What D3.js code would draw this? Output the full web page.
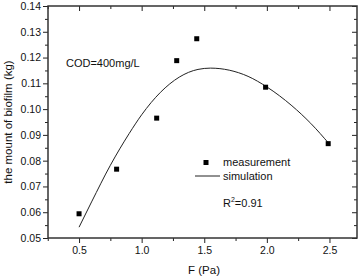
<!DOCTYPE html>
<html lang="en">
<head>
    <meta charset="UTF-8">
    <title>Biofilm vs F</title>
    <script src="https://d3js.org/d3.v7.min.js"></script>
    <style>
        body { margin: 0; background: #fff; }
        svg { display: block; font-family: 'Liberation Sans', Arial, sans-serif; }
        .tick text { font-size: 10.5px; fill: #111; }
    </style>
</head>
<body>
    <svg id="chart" width="360" height="277"></svg>

    <script>
        // measured points
        const measF = [0.5, 0.8, 1.12, 1.28, 1.44, 1.99, 2.49];
        const measVal = [0.0594, 0.0767, 0.0965, 0.1188, 0.1273, 0.1085, 0.0866];

        // simulated curve
        const simF = [0.5, 0.6, 0.75, 0.9, 1.0, 1.15, 1.3, 1.45, 1.55, 1.7, 1.85, 2.0, 2.2, 2.35, 2.5];
        const simVal = [0.0542, 0.0640, 0.0782, 0.0905, 0.0978, 0.1065, 0.1124, 0.1154, 0.1159, 0.1151, 0.1127, 0.1086, 0.1013, 0.0945, 0.0864];

        const xTicks = [0.5, 1.0, 1.5, 2.0, 2.5];
        const yTicks = [0.05, 0.06, 0.07, 0.08, 0.09, 0.10, 0.11, 0.12, 0.13, 0.14];

        const margin = { left: 48, top: 6, right: 357, bottom: 238 };
        const svg = d3.select("#chart");

        const x = d3.scaleLinear().domain([0.252, 2.72]).range([margin.left, margin.right]);
        const y = d3.scaleLinear().domain([0.05, 0.14]).range([margin.bottom, margin.top]);

        const xMinor = d3.range(0.25, 2.71, 0.25).filter(v => Math.abs(v * 2 - Math.round(v * 2)) > 0.01);
        const yMinor = d3.range(0.055, 0.14, 0.01);

        function styleAxis(g) {
            g.select(".domain").remove();
            g.selectAll(".tick line").attr("stroke", "#222").attr("stroke-width", 1);
        }

        // bottom axis
        svg.append("g")
            .attr("transform", `translate(0,${margin.bottom})`)
            .call(d3.axisBottom(x).tickValues(xTicks).tickFormat(d3.format(".1f")).tickSize(5).tickPadding(4))
            .call(styleAxis);
        svg.append("g")
            .attr("transform", `translate(0,${margin.bottom})`)
            .call(d3.axisBottom(x).tickValues(xMinor).tickFormat("").tickSize(3))
            .call(styleAxis);

        // top axis (inward)
        svg.append("g")
            .attr("transform", `translate(0,${margin.top})`)
            .call(d3.axisBottom(x).tickValues(xTicks).tickFormat("").tickSize(5))
            .call(styleAxis);
        svg.append("g")
            .attr("transform", `translate(0,${margin.top})`)
            .call(d3.axisBottom(x).tickValues(xMinor).tickFormat("").tickSize(3))
            .call(styleAxis);

        // left axis
        svg.append("g")
            .attr("transform", `translate(${margin.left},0)`)
            .call(d3.axisLeft(y).tickValues(yTicks).tickFormat(d3.format(".2f")).tickSize(5).tickPadding(2))
            .call(styleAxis);
        svg.append("g")
            .attr("transform", `translate(${margin.left},0)`)
            .call(d3.axisLeft(y).tickValues(yMinor).tickFormat("").tickSize(3))
            .call(styleAxis);

        // right axis (inward)
        svg.append("g")
            .attr("transform", `translate(${margin.right},0)`)
            .call(d3.axisLeft(y).tickValues(yTicks).tickFormat("").tickSize(5))
            .call(styleAxis);
        svg.append("g")
            .attr("transform", `translate(${margin.right},0)`)
            .call(d3.axisLeft(y).tickValues(yMinor).tickFormat("").tickSize(3))
            .call(styleAxis);

        // frame
        svg.append("rect")
            .attr("x", margin.left).attr("y", margin.top)
            .attr("width", margin.right - margin.left)
            .attr("height", margin.bottom - margin.top)
            .attr("fill", "none").attr("stroke", "#333").attr("stroke-width", 1.5);

        // simulation curve
        const line = d3.line()
            .x((d, i) => x(simF[i]))
            .y(d => y(d))
            .curve(d3.curveMonotoneX);
        svg.append("path")
            .datum(simVal)
            .attr("d", line)
            .attr("fill", "none")
            .attr("stroke", "#222")
            .attr("stroke-width", 1);

        // measurement markers
        svg.selectAll(".meas")
            .data(measVal)
            .enter().append("rect")
            .attr("class", "meas")
            .attr("x", (d, i) => x(measF[i]) - 2.5)
            .attr("y", d => y(d) - 2.5)
            .attr("width", 5).attr("height", 5)
            .attr("fill", "#000");

        // annotations
        svg.append("text").attr("x", 66).attr("y", 67)
            .attr("font-size", 11).attr("fill", "#111").text("COD=400mg/L");

        // legend
        svg.append("rect").attr("x", 203.5).attr("y", 160).attr("width", 5).attr("height", 5).attr("fill", "#000");
        svg.append("text").attr("x", 223).attr("y", 166)
            .attr("font-size", 11).attr("fill", "#111").text("measurement");
        svg.append("line").attr("x1", 195).attr("x2", 220).attr("y1", 176).attr("y2", 176)
            .attr("stroke", "#222").attr("stroke-width", 1);
        svg.append("text").attr("x", 223).attr("y", 180)
            .attr("font-size", 11).attr("fill", "#111").text("simulation");

        const r2 = svg.append("text").attr("x", 223).attr("y", 207)
            .attr("font-size", 11).attr("fill", "#111");
        r2.append("tspan").text("R");
        r2.append("tspan").attr("font-size", 7).attr("dy", -5).text("2");
        r2.append("tspan").attr("dy", 5).text("=0.91");

        // axis titles
        svg.append("text")
            .attr("x", 204).attr("y", 274)
            .attr("text-anchor", "middle")
            .attr("font-size", 11.5).attr("fill", "#111")
            .text("F (Pa)");
        svg.append("text")
            .attr("transform", "translate(12,122) rotate(-90)")
            .attr("text-anchor", "middle")
            .attr("font-size", 11.5).attr("fill", "#111")
            .text("the mount of biofilm (kg)");
    </script>
</body>
</html>
